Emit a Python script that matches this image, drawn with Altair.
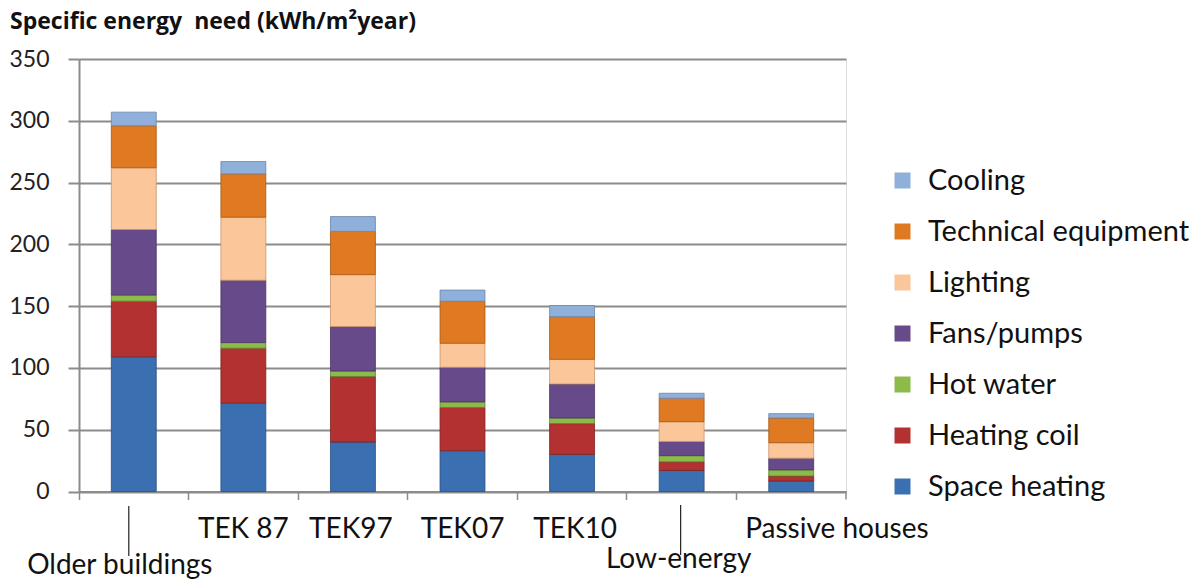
import altair as alt
import pandas as pd

# Building categories along the x axis
categories = ["Older buildings", "TEK 87", "TEK97", "TEK07", "TEK10", "Low-energy", "Passive houses"]

# Energy-need components, listed from the bottom of each stack upwards
series = ["Space heating", "Heating coil", "Hot water", "Fans/pumps",
          "Lighting", "Technical equipment", "Cooling"]

space_heating = [109, 71.5, 40, 33, 30, 17, 8.5]
heating_coil = [45, 44.5, 53, 35, 25, 7, 4]
hot_water = [5, 4.5, 4.5, 4.5, 4.5, 5, 5]
fans_pumps = [53, 50.5, 36, 28, 27.5, 11.5, 9.5]
lighting = [50, 51, 42, 19.5, 20, 16, 12.5]
technical_equipment = [34, 35, 35, 34, 34.5, 19, 20]
cooling = [11, 10, 12, 9, 9, 4, 3.5]

colors = ["#3A6FB2", "#B33131", "#8DBB4A", "#674A8A", "#FAC69A", "#E07A22", "#8FB0DA"]
edges = ["#2A4F80", "#7E2222", "#5F8231", "#4A3564", "#C9956C", "#A85812", "#6A85AD"]

values = [space_heating, heating_coil, hot_water, fans_pumps,
          lighting, technical_equipment, cooling]

rows = []
for s_idx, (name, vals) in enumerate(zip(series, values)):
    for cat, v in zip(categories, vals):
        rows.append({"category": cat, "component": name, "value": v, "stack": s_idx})
df = pd.DataFrame(rows)

W, H = 767, 432.5
FONT = "Lato"
GRID = "#8C8C8C"

x_enc = alt.X("category:N", sort=categories,
              scale=alt.Scale(paddingInner=0, paddingOuter=0),
              axis=alt.Axis(title=None, labels=False, domainColor=GRID, domainWidth=2,
                            tickColor=GRID, tickWidth=1.5, tickSize=8, bandPosition=0,
                            grid=False))

legend_order = list(reversed(series))
legend_colors = list(reversed(colors))
legend_edges = list(reversed(edges))

bars = alt.Chart(df).mark_bar(width=alt.RelativeBandSize(0.41), strokeWidth=1,
                              strokeOpacity=0.8).encode(
    x=x_enc,
    y=alt.Y("value:Q", stack="zero",
            scale=alt.Scale(domain=[0, 350], nice=False),
            axis=alt.Axis(title=None, values=list(range(0, 351, 50)),
                          grid=True, gridColor=GRID, gridWidth=2,
                          domainColor=GRID, domainWidth=2,
                          tickColor=GRID, tickWidth=2, tickSize=11,
                          labelFont=FONT, labelFontSize=23, labelColor="#222222",
                          labelPadding=19)),
    color=alt.Color("component:N",
                    scale=alt.Scale(domain=legend_order, range=legend_colors),
                    legend=alt.Legend(title=None, orient="none", legendX=809, legendY=107,
                                      symbolType="square", symbolSize=256,
                                      symbolStrokeWidth=0, labelFont=FONT,
                                      labelFontSize=29, labelColor="#111111",
                                      labelLimit=0, labelOffset=11, rowPadding=21,
                                      padding=0)),
    stroke=alt.Stroke("component:N",
                      scale=alt.Scale(domain=legend_order, range=legend_edges),
                      legend=None),
    order=alt.Order("stack:Q", sort="ascending"),
)

# Closing tick at the right end of the category axis
end_tick = alt.Chart(pd.DataFrame({"k": [0]})).mark_rule(color=GRID, strokeWidth=1.5).encode(
    x=alt.value(W), y=alt.value(H), y2=alt.value(H + 8)
)


def cat_label(text, y, dx=0, align="center"):
    return alt.Chart(pd.DataFrame({"category": [text]})).mark_text(
        font=FONT, fontSize=28, color="#111111", align=align, baseline="alphabetic", dx=dx
    ).encode(
        x=alt.X("category:N", sort=categories),
        y=alt.value(y),
        text="category:N",
    )


def leader(text, y1, y2, offset=0):
    return alt.Chart(pd.DataFrame({"category": [text]})).mark_rule(
        color="#222222", strokeWidth=1.2, xOffset=offset
    ).encode(
        x=alt.X("category:N", sort=categories),
        y=alt.value(y1), y2=alt.value(y2),
    )


labels = [
    cat_label("TEK 87", 479),
    cat_label("TEK97", 479, dx=-2),
    cat_label("TEK07", 479),
    cat_label("TEK10", 479, dx=3),
    cat_label("Passive houses", 479, dx=-46, align="left"),
    cat_label("Older buildings", 515, dx=-14),
    cat_label("Low-energy", 509, dx=-3),
    leader("Older buildings", 447, 497, offset=-5),
    leader("Low-energy", 446, 496, offset=-1),
]

chart = alt.layer(bars, end_tick, *labels).properties(
    width=W, height=H,
    title=alt.TitleParams("Specific energy\u00a0 need (kWh/m²year)", anchor="start",
                          frame="group", dx=-69, offset=14,
                          font="Open Sans", fontSize=23,
                          fontWeight="bold", color="#111111"),
    autosize=alt.AutoSizeParams(type="none"),
    padding={"left": 79, "top": 59, "right": 357, "bottom": 93},
).configure_view(stroke=None).configure(background="white")

chart.save("out.html", embed_options={"renderer": "svg", "actions": False})
